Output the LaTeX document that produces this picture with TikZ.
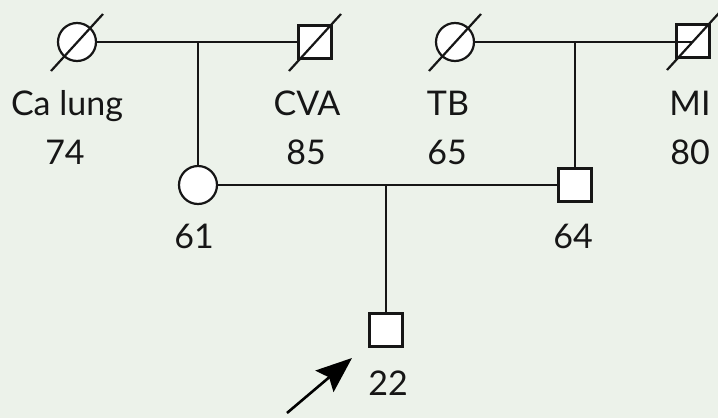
\documentclass[tikz,border=0pt]{standalone}
\usepackage{fontspec}
\setmainfont{Lato}
\usepackage{xcolor}
\usetikzlibrary{arrows.meta, positioning}
\definecolor{pedbg}{RGB}{236,242,234}
\definecolor{pedline}{RGB}{22,22,22}
\tikzstyle{female} = [circle, draw=pedline, fill=white, line width=2.2pt,
minimum size=38pt, inner sep=0pt]
\tikzstyle{male} = [rectangle, draw=pedline, fill=white, line width=2.2pt,
minimum size=33pt, inner sep=0pt]
\tikzstyle{tag} = [font=\fontsize{34}{40}\selectfont, anchor=base, text=pedline, inner sep=0pt]
\tikzstyle{link} = [line width=2.2pt, draw=pedline]
\tikzstyle{arrow} = [-{Stealth[length=36pt, width=28pt, inset=6pt]}, line width=2.6pt, draw=black]
\newcommand{\deceased}[1]{\draw[link] ([shift={(-26,29)}]#1.center) -- ([shift={(26,-28)}]#1.center);}

\begin{document}
\begin{tikzpicture}[x=1pt, y=-1pt]
    \fill[pedbg] (0,0) rectangle (718,418);
    \useasboundingbox (0,0) rectangle (718,418);

    % grandparents
    \node (gm1) [female] at (77,42)  {};
    \node (gf1) [male]   at (315,42) {};
    \node (gm2) [female] at (455,42) {};
    \node (gf2) [male]   at (693,41) {};
    % parents and proband
    \node (mom) [female] at (198,185) {};
    \node (dad) [male]   at (575,185) {};
    \node (pro) [male]   at (386,330) {};

    \draw[link] (gm1) -- (gf1);
    \draw[link] (gm2) -- (gf2 |- gm2);
    \draw[link] (gm1 -| mom) -- (mom);
    \draw[link] (gm2 -| dad) -- (dad);
    \draw[link] (mom) -- (dad);
    \draw[link] (mom -| pro) -- (pro);

    \deceased{gm1}
    \deceased{gf1}
    \deceased{gm2}
    \deceased{gf2}

    \node (gm1dx)  [tag] at (67,115)  {Ca lung};
    \node (gm1age) [tag] at (65,164)  {74};
    \node (gf1dx)  [tag] at (307,115) {CVA};
    \node (gf1age) [tag] at (306,164) {85};
    \node (gm2dx)  [tag] at (448,115) {TB};
    \node (gm2age) [tag] at (447,164) {65};
    \node (gf2dx)  [tag] at (690,115) {MI};
    \node (gf2age) [tag] at (690,164) {80};
    \node (momage) [tag] at (194,248) {61};
    \node (dadage) [tag] at (573,248) {64};
    \node (proage) [tag] at (388,395) {22};

    \coordinate (ptail) at ([shift={(-99,83)}]pro.center);
    \coordinate (ptip)  at ([shift={(-34,28)}]pro.center);
    \draw[arrow] (ptail) -- (ptip);
\end{tikzpicture}
\end{document}
